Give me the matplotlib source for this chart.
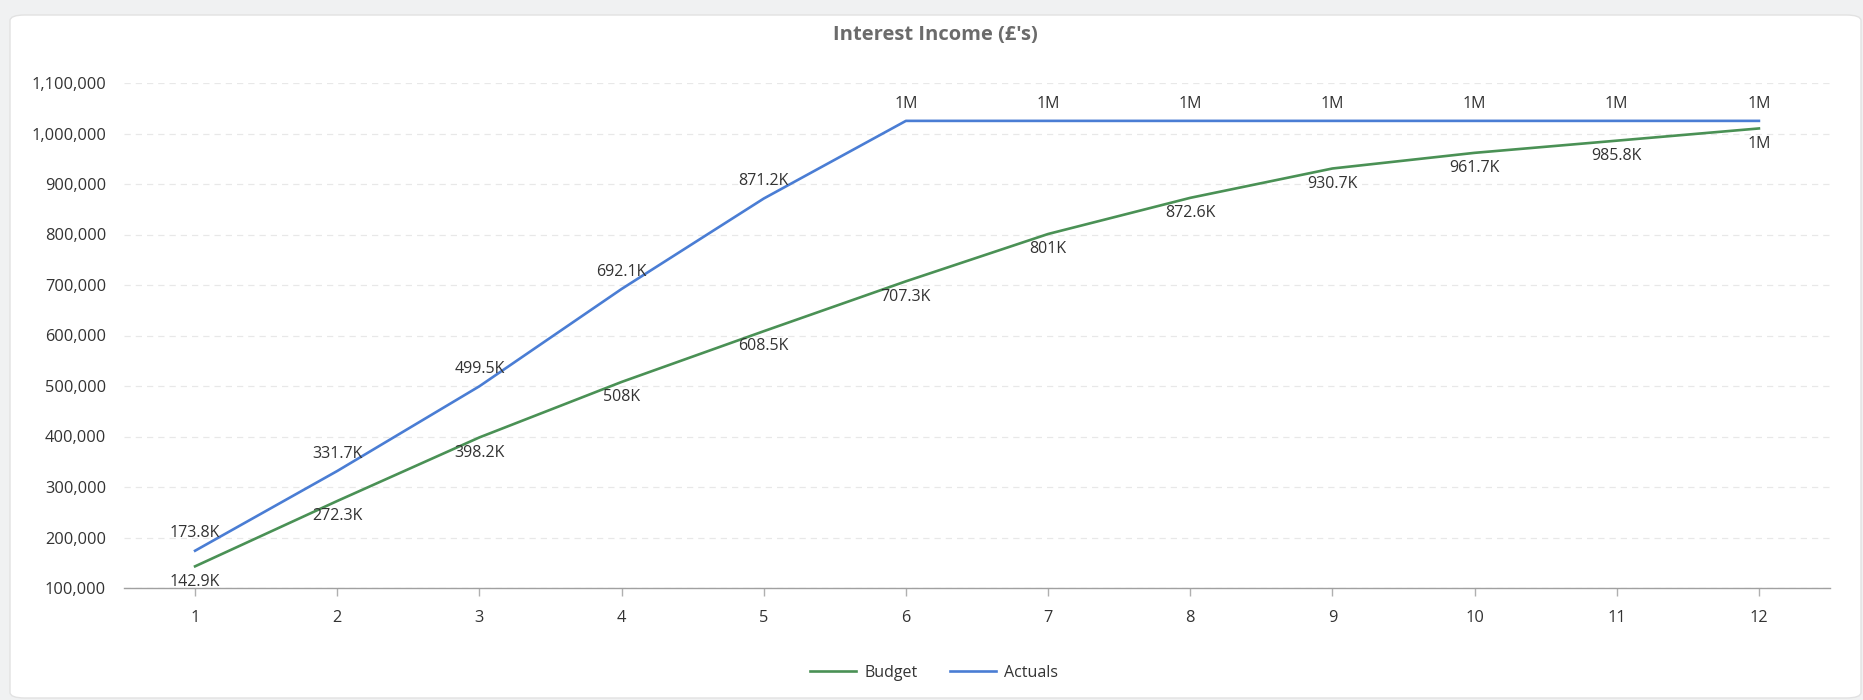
import matplotlib
matplotlib.use("Agg")
import matplotlib.pyplot as plt
from matplotlib.patches import FancyBboxPatch
from matplotlib.ticker import FuncFormatter, FixedLocator

plt.rcParams['font.family'] = ['Open Sans', 'DejaVu Sans']

months = [1, 2, 3, 4, 5, 6, 7, 8, 9, 10, 11, 12]
budget = [142900, 272300, 398200, 508000, 608500, 707300, 801000, 872600, 930700, 961700, 985800, 1010000]
actuals = [173800, 331700, 499500, 692100, 871200, 1025000, 1025000, 1025000, 1025000, 1025000, 1025000, 1025000]
budget_labels = ["142.9K", "272.3K", "398.2K", "508K", "608.5K", "707.3K", "801K", "872.6K", "930.7K", "961.7K", "985.8K", "1M"]
actual_labels = ["173.8K", "331.7K", "499.5K", "692.1K", "871.2K", "1M", "1M", "1M", "1M", "1M", "1M", "1M"]
yticks = [100000, 200000, 300000, 400000, 500000, 600000, 700000, 800000, 900000, 1000000, 1100000]
title = "Interest Income (£'s)"

green = '#4a9155'
blue = '#4a7dd4'
txt = '#333333'

fig = plt.figure(figsize=(18.63, 7.0), dpi=100)
fig.patch.set_facecolor('#f0f1f2')
card = FancyBboxPatch((10/1863, 2/700), 1851/1863, 683/700,
                      boxstyle="round,pad=0,rounding_size=0.008",
                      transform=fig.transFigure, facecolor='white',
                      edgecolor='#e2e2e2', linewidth=1.0, zorder=-5)
fig.patches.append(card)

ax = fig.add_axes([124/1863, 1 - 588/700, (1830 - 124)/1863, (588 - 83)/700])
ax.set_facecolor('none')
ax.set_zorder(1)

ax.plot(months, budget, color=green, lw=1.9, label='Budget', zorder=3)
ax.plot(months, actuals, color=blue, lw=1.9, label='Actuals', zorder=3)

for x, y, s in zip(months, budget, budget_labels):
    ax.annotate(s, (x, y), xytext=(0, -11), textcoords='offset points',
                ha='center', va='center', fontsize=11.5, color=txt, zorder=4)
for x, y, s in zip(months, actuals, actual_labels):
    ax.annotate(s, (x, y), xytext=(0, 12.5), textcoords='offset points',
                ha='center', va='center', fontsize=11.5, color=txt, zorder=4)

ax.set_xlim(0.5, 12.5)
ax.set_ylim(100000, 1100000)
ax.yaxis.set_major_locator(FixedLocator(yticks))
ax.xaxis.set_major_locator(FixedLocator(months))
ax.yaxis.set_major_formatter(FuncFormatter(lambda v, p: f"{int(v):,}"))
ax.grid(axis='y', color='#e8e8e8', linestyle=(0, (5, 4)), lw=0.9)
ax.set_axisbelow(True)
for s in ['top', 'right', 'left']:
    ax.spines[s].set_visible(False)
ax.spines['bottom'].set_color('#a0a0a0')
ax.spines['bottom'].set_linewidth(1.0)
ax.tick_params(axis='y', length=0, pad=13, labelsize=11.8, labelcolor=txt)
ax.tick_params(axis='x', length=6, width=1, color='#b0b0b0', pad=10, labelsize=11.8, labelcolor=txt)

fig.text(935/1863, 1 - 35/700, title, ha='center', va='center', fontsize=14.5,
         fontweight='bold', color='#6b6b6b')

leg = fig.legend(loc='center', bbox_to_anchor=(934/1863, 1 - 673/700), ncol=2,
                 frameon=False, fontsize=11.5, handlelength=2.9, columnspacing=2.0,
                 handletextpad=0.5)
for t in leg.get_texts():
    t.set_color(txt)

fig.savefig('out.png', dpi=100, facecolor=fig.get_facecolor())
